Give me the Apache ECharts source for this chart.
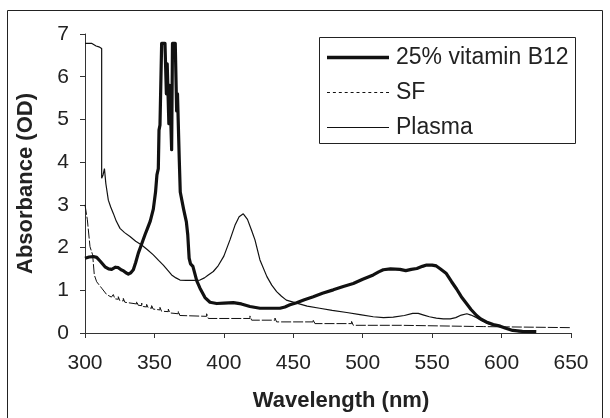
<!DOCTYPE html>
<html>
<head>
<meta charset="utf-8">
<script src="https://cdn.jsdelivr.net/npm/echarts@6/dist/echarts.min.js"></script>
<style>
html,body{margin:0;padding:0;background:#fff;}
#c{width:610px;height:418px;}
</style>
</head>
<body>
<div id="c"></div>
<script>
// ---- data (wavelength nm, absorbance OD) ----
var seriesNames = ['25% vitamin B12', 'SF', 'Plasma'];
var xTicks = [300, 350, 400, 450, 500, 550, 600, 650];
var yTicks = [0, 1, 2, 3, 4, 5, 6, 7];

var b12Data = [
[300,1.75],[303,1.78],[306,1.79],[308.4,1.77],[311,1.68],[314.4,1.55],[317,1.5],[319.2,1.49],[322,1.54],[324,1.53],[326,1.48],[327.6,1.46],[329.5,1.41],[331.2,1.38],[333,1.41],[334.8,1.48],[336.5,1.65],[338.4,1.87],[341,2.1],[343.2,2.3],[345,2.45],[347,2.62],[349.2,2.9],[350.8,3.3],[351.8,3.7],[352.8,3.85],[353.3,4.75],[354,4.87],[355.2,6.78],[357.6,6.78],[358.6,5.6],[359.2,6.3],[360.4,4.9],[361,5.8],[362.4,4.29],[363,6.78],[365,6.78],[366,5.2],[366.6,5.6],[367.9,4.05],[368.6,3.3],[371,2.9],[373,2.6],[374,2.3],[375,1.75],[376,1.62],[377.7,1.56],[379.2,1.38],[380.5,1.22],[382.8,1.05],[386.4,0.83],[390,0.72],[394.8,0.69],[400,0.7],[406.8,0.71],[412.6,0.68],[418.8,0.62],[426,0.58],[433,0.58],[440.4,0.58],[444,0.61],[447.6,0.66],[452.4,0.71],[458,0.78],[464.4,0.85],[471,0.93],[478.8,1.01],[486,1.09],[493.2,1.16],[500,1.26],[507.6,1.36],[511.5,1.43],[514.8,1.48],[520,1.5],[526.8,1.49],[531,1.46],[535,1.49],[539,1.51],[543,1.56],[546,1.59],[550,1.59],[553,1.57],[556,1.5],[560,1.4],[564,1.2],[567.6,1.03],[571,0.85],[575,0.68],[578,0.55],[582,0.41],[585,0.33],[589,0.26],[594,0.2],[599,0.16],[603,0.11],[608,0.06],[615,0.04],[625,0.03]
];

var sfData = [
[300,3.0],[301.7,2.65],[303.6,2.02],[305.5,1.83],[306.7,1.36],[308.4,1.2],[312,1.05],[315.6,0.9],[319,0.84],
[320.4,0.84],[320.4,0.9],[321.5,0.8],[324,0.79],[324,0.85],[325,0.76],[327.6,0.75],[327.6,0.81],[328.7,0.72],
[337.2,0.68],[337.2,0.74],[338.3,0.65],[340.8,0.64],[340.8,0.7],[341.9,0.62],[344.4,0.61],[344.4,0.67],[345.5,0.59],
[348,0.58],[348,0.64],[349.1,0.56],[354,0.54],[354,0.6],[355.1,0.51],[360,0.5],[360,0.56],[361.1,0.47],
[367.2,0.45],[367.2,0.51],[368.3,0.41],[387.6,0.39],[387.6,0.45],[388.8,0.34],[418.8,0.34],[418.8,0.4],[420,0.3],
[436.8,0.3],[436.8,0.35],[438,0.26],[464.4,0.26],[464.4,0.31],[465.6,0.22],[492,0.22],[492,0.27],[493.2,0.18],
[528,0.18],[528,0.22],[529.2,0.15],[586.8,0.15],[586.8,0.19],[588,0.125],[650,0.125]
];

var plasmaData = [
[300,6.78],[305,6.78],[308,6.72],[310,6.7],[312,6.66],[312,3.62],[313,3.7],[314,3.85],[315,3.5],[316.8,3.11],[318.5,2.95],[320.4,2.8],[322.5,2.62],[325.2,2.45],[328.5,2.35],[332.4,2.26],[336.5,2.15],[340.8,2.06],[345,1.95],[349.2,1.83],[353,1.7],[356.4,1.59],[359.5,1.47],[362.4,1.36],[365.5,1.29],[368.4,1.24],[373,1.23],[378,1.23],[382.8,1.24],[386,1.29],[388.8,1.36],[392.4,1.44],[396,1.58],[400,1.8],[404.4,2.18],[408,2.52],[411,2.72],[414,2.79],[417,2.66],[420,2.4],[422.4,2.18],[426,1.71],[431,1.32],[434.5,1.12],[438,0.97],[441.5,0.86],[445,0.77],[452.4,0.7],[460,0.63],[469,0.58],[478,0.53],[488.5,0.48],[498,0.43],[507.6,0.38],[515,0.36],[522,0.37],[530,0.41],[536,0.46],[540,0.46],[544,0.42],[548,0.38],[553,0.35],[558,0.33],[563,0.33],[567,0.36],[571,0.42],[575,0.45],[578,0.42],[582,0.36],[586,0.28],[590,0.22],[594,0.18],[598,0.15],[603,0.12],[608,0.07],[612,0.03],[618,0.02]
];

var FONT = '"Liberation Sans", Arial, sans-serif';
var INK = '#111';

// legend sample icons (bounding box 62x14 kept by the leading moveTo points)
var iconThick = 'path://M0,0M62,14M0,5.3h62v3.4h-62z';
var iconThin = 'path://M0,0M62,14M0,6.4h62v1.2h-62z';
var dots = '';
for (var i = 0; i < 11; i++) { dots += 'M' + (i * 6) + ',6.4h3v1.2h-3z'; }
var iconDotted = 'path://M0,0M62,14' + dots;

var chart = echarts.init(document.getElementById('c'), null, {renderer: 'canvas'});
chart.setOption({
  animation: false,
  backgroundColor: '#fff',
  grid: {left: 85, right: 39, top: 34, bottom: 85, containLabel: false},
  xAxis: {
    type: 'value', min: xTicks[0], max: xTicks[xTicks.length - 1], interval: 50,
    name: 'Wavelength (nm)', nameLocation: 'middle', nameGap: 57,
    nameTextStyle: {fontFamily: FONT, fontSize: 22, fontWeight: 'bold', color: '#222', padding: [0, 0, 0, 26]},
    axisLine: {show: true, onZero: false, lineStyle: {color: '#333', width: 1}},
    axisTick: {show: true, inside: false, length: 5, lineStyle: {color: '#333'}},
    axisLabel: {fontFamily: FONT, fontSize: 21, color: '#222', margin: 20},
    splitLine: {show: false}
  },
  yAxis: {
    type: 'value', min: yTicks[0], max: yTicks[yTicks.length - 1], interval: 1,
    name: 'Absorbance (OD)', nameLocation: 'middle', nameGap: 48, nameRotate: 90,
    nameTextStyle: {fontFamily: FONT, fontSize: 22, fontWeight: 'bold', color: '#222'},
    axisLine: {show: true, lineStyle: {color: '#333', width: 1}},
    axisTick: {show: true, inside: false, length: 5, lineStyle: {color: '#333'}},
    axisLabel: {fontFamily: FONT, fontSize: 21, color: '#222', margin: 16},
    splitLine: {show: false}
  },
  legend: {
    orient: 'vertical', left: 327, top: 46, padding: 0,
    itemWidth: 62, itemHeight: 14, itemGap: 12,
    itemStyle: {color: INK, borderWidth: 0},
    textStyle: {fontFamily: FONT, fontSize: 23, color: '#222', lineHeight: 23, padding: [0, 0, 0, 2]},
    data: [
      {name: seriesNames[0], icon: iconThick},
      {name: seriesNames[1], icon: iconDotted},
      {name: seriesNames[2], icon: iconThin}
    ]
  },
  graphic: [
    {type: 'rect', silent: true, z: 100, shape: {x: 319.5, y: 37.5, width: 256, height: 106},
     style: {fill: 'none', stroke: '#222', lineWidth: 1}},
    {type: 'rect', silent: true, z: 100, shape: {x: 7.5, y: 10.5, width: 595, height: 430},
     style: {fill: 'none', stroke: '#222', lineWidth: 1}}
  ],
  series: [
    {name: seriesNames[0], type: 'line', data: b12Data, showSymbol: false, symbol: 'none', z: 5,
     lineStyle: {color: INK, width: 3.2, join: 'round'}, itemStyle: {color: INK}},
    {name: seriesNames[1], type: 'line', data: sfData, showSymbol: false, symbol: 'none', z: 3,
     lineStyle: {color: INK, width: 1, type: [10, 2]}, itemStyle: {color: INK}},
    {name: seriesNames[2], type: 'line', data: plasmaData, showSymbol: false, symbol: 'none', z: 4,
     lineStyle: {color: INK, width: 1.2}, itemStyle: {color: INK}}
  ]
});
</script>
</body>
</html>
